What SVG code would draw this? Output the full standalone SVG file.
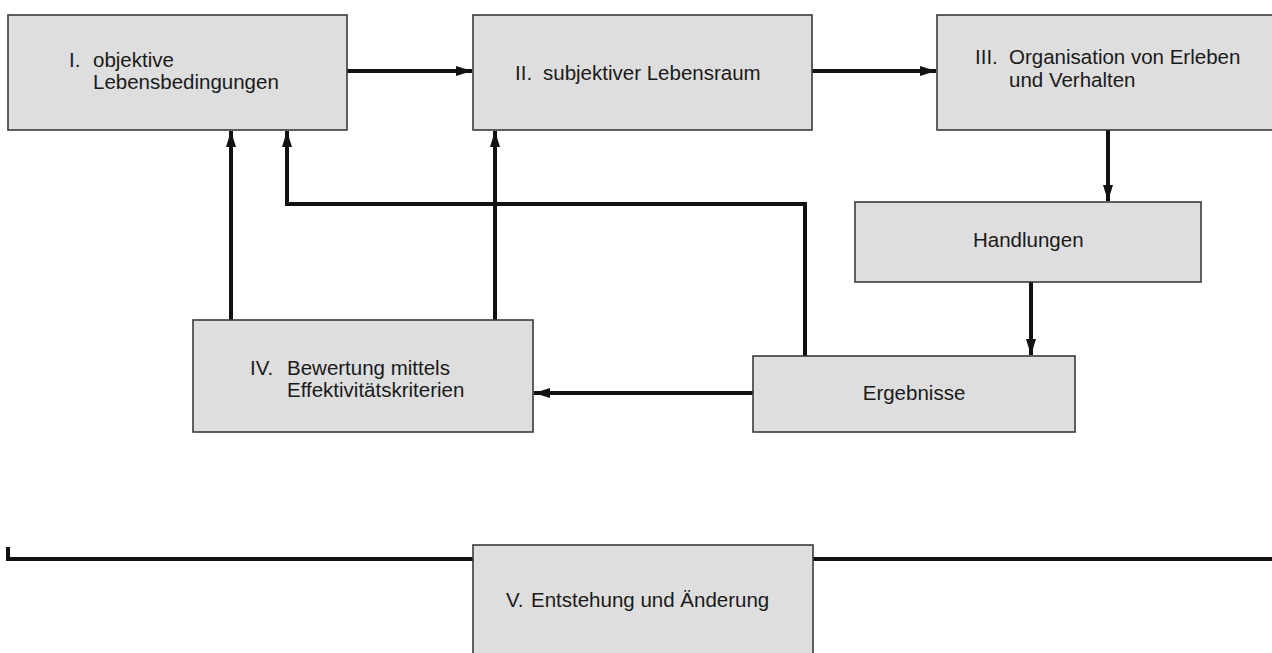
<svg xmlns="http://www.w3.org/2000/svg" width="1272" height="653" viewBox="0 0 1272 653">
<defs>
<style>
.box{fill:#dedede;stroke:#3a3a3a;stroke-width:1.6}
.t{font-family:"Liberation Sans",Arial,Helvetica,sans-serif;font-size:20.5px;fill:#1a1a1a}
.c{fill:none;stroke:#111;stroke-width:4;stroke-linejoin:miter}
.ca{fill:none;stroke:#111;stroke-width:4;marker-end:url(#ah)}
</style>
<marker id="ah" markerUnits="userSpaceOnUse" viewBox="0 0 16 10" refX="16" refY="5" markerWidth="16" markerHeight="10" orient="auto">
<path d="M0,0 L16,5 L0,10 z" fill="#111"/>
</marker>
</defs>
<rect width="1272" height="653" fill="#ffffff"/>
<g id="connectors">
<path class="ca" d="M347,71 H472"/>
<path class="ca" d="M812,71 H936"/>
<path class="ca" d="M1108,130 V201"/>
<path class="ca" d="M1031,282 V355"/>
<path class="ca" d="M753,393 H534"/>
<path class="ca" d="M805,356 V204 H287 V131"/>
<path class="ca" d="M231,320 V131"/>
<path class="ca" d="M495,320 V131"/>
<path class="c" d="M8,547 V559 H473"/>
<path class="c" d="M813,559 H1272"/>
</g>
<g id="n1">
<rect class="box" x="8" y="15" width="339" height="115"/>
<text class="t" x="69" y="67">I.</text>
<text class="t" x="93" y="67">objektive</text>
<text class="t" x="93" y="89">Lebensbedingungen</text>
</g>
<g id="n2">
<rect class="box" x="473" y="15" width="339" height="115"/>
<text class="t" x="515" y="80">II.</text>
<text class="t" x="543" y="80">subjektiver Lebensraum</text>
</g>
<g id="n3">
<rect class="box" x="937" y="15" width="340" height="115"/>
<text class="t" x="975" y="64">III.</text>
<text class="t" x="1009" y="64">Organisation von Erleben</text>
<text class="t" x="1009" y="87">und Verhalten</text>
</g>
<g id="n4">
<rect class="box" x="855" y="202" width="346" height="80"/>
<text class="t" x="973" y="247">Handlungen</text>
</g>
<g id="n5">
<rect class="box" x="753" y="356" width="322" height="76"/>
<text class="t" x="914" y="400" text-anchor="middle">Ergebnisse</text>
</g>
<g id="n6">
<rect class="box" x="193" y="320" width="340" height="112"/>
<text class="t" x="250" y="375">IV.</text>
<text class="t" x="287" y="375">Bewertung mittels</text>
<text class="t" x="287" y="397">Effektivitätskriterien</text>
</g>
<g id="n7">
<rect class="box" x="473" y="545" width="340" height="120"/>
<text class="t" x="506" y="607">V.</text>
<text class="t" x="531" y="607">Entstehung und Änderung</text>
</g>
</svg>
